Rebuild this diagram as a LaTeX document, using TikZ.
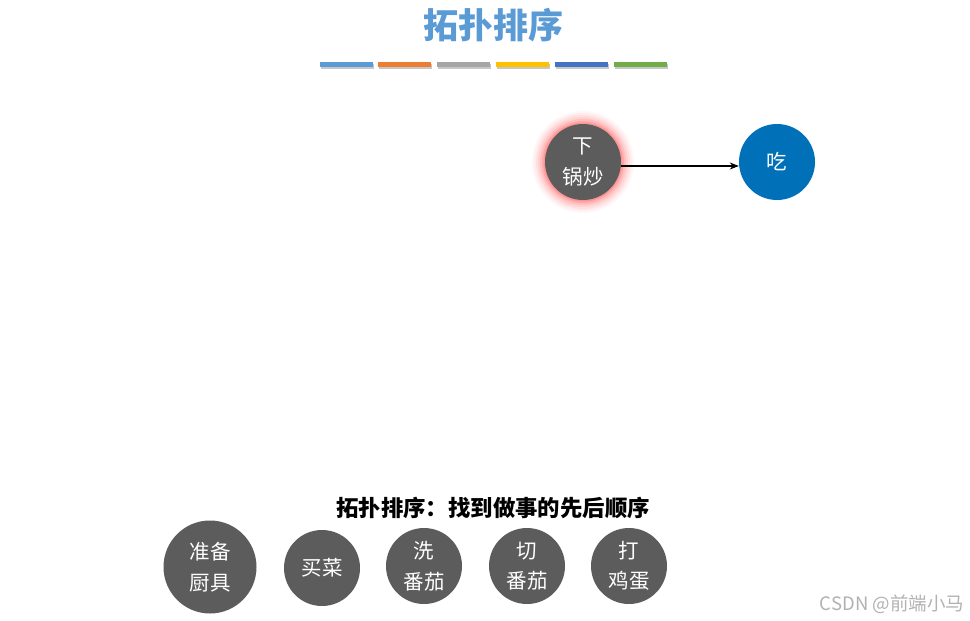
\documentclass[tikz,border=0pt]{standalone}
\usepackage{fontspec}
\setmainfont{Noto Sans CJK SC}
\usetikzlibrary{arrows.meta}
\definecolor{titleblue}{HTML}{5B9BD5}
\definecolor{barA}{HTML}{5B9BD5}
\definecolor{barB}{HTML}{ED7D31}
\definecolor{barC}{HTML}{A5A5A5}
\definecolor{barD}{HTML}{FFC000}
\definecolor{barE}{HTML}{4472C4}
\definecolor{barF}{HTML}{70AD47}
\definecolor{nodegray}{HTML}{5C5C5C}
\definecolor{eatblue}{HTML}{0071B9}
\definecolor{glowred}{HTML}{FF4040}
\begin{document}
\begin{tikzpicture}[x=1pt,y=-1pt,
  bar/.style={inner sep=0pt,minimum height=5pt,minimum width=53pt},
  task/.style={circle,fill=nodegray,text=white,inner sep=0pt,minimum size=76pt,align=center,font=\fontsize{20.5}{30.5}\selectfont},
  conn/.style={-{Stealth[length=9pt,width=7pt]},line width=1.2pt,black}]
\useasboundingbox (0,0) rectangle (970,621);
\fill[white] (0,0) rectangle (970,621);
% title
\node[text=titleblue,font=\fontsize{35}{40}\selectfont\bfseries] (title) at (493,25) {拓扑排序};
% bars
\foreach \x/\c [count=\i] in {346.5/barA,404/barB,463/barC,522/barD,581/barE,640.5/barF}{
  \fill[black!22] (\x-26.5+1,62+1.5) rectangle (\x+26.5+1,67+1.5);
  \node[bar,fill=\c] (bar\i) at (\x,64.5) {};
}
% glow
\foreach \r/\o in {51/0.04,49/0.05,47/0.07,45/0.09,43/0.12,41/0.16,39.5/0.2}{
  \fill[glowred,opacity=\o] (583,162) circle (\r);
}
\node[task] (xia) at (583,162) {下\\锅炒};
\node[task,fill=eatblue] (chi) at (777,162) {吃};
\draw[conn] ([yshift=-4pt]xia.east) -- ([yshift=-4pt]chi.west);
% subtitle
\node[font=\fontsize{22.4}{26}\selectfont\bfseries] (sub) at (493,508) {拓扑排序：找到做事的先后顺序};
% bottom tasks
\node[task,minimum size=93pt] (t1) at (210,567) {准备\\厨具};
\node[task] (t2) at (322,568) {买菜};
\node[task] (t3) at (424,566) {洗\\番茄};
\node[task] (t4) at (527,566) {切\\番茄};
\node[task] (t5) at (629,566) {打\\鸡蛋};
% watermark
\node[text=black!30,font=\fontsize{18.5}{22}\selectfont] (wm) at (892,604) {CSDN @前端小马};
\end{tikzpicture}
\end{document}
